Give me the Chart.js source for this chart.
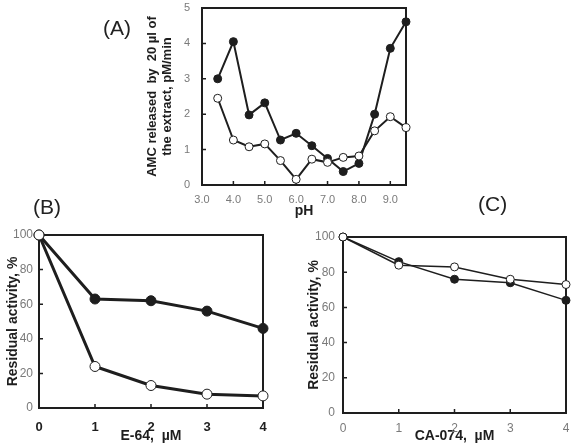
<!DOCTYPE html>
<html>
<head>
<meta charset="utf-8">
<script src="https://cdn.jsdelivr.net/npm/chart.js@4.4.0/dist/chart.umd.min.js"></script>
<style>
  html, body { margin:0; padding:0; background:#fff; }
  #wrap { position:relative; width:571px; height:446px; overflow:hidden; background:#fff; }
  canvas { position:absolute; left:0; top:0; }
  .plab { position:absolute; font-family:"Liberation Sans", Arial, sans-serif; font-size:21px; color:#222; line-height:1; }
</style>
</head>
<body>
<div id="wrap">
  <canvas id="cA" width="571" height="446"></canvas>
  <canvas id="cB" width="571" height="446"></canvas>
  <canvas id="cC" width="571" height="446"></canvas>
  <div class="plab" style="left:103px;top:17px;">(A)</div>
  <div class="plab" style="left:33px;top:196px;">(B)</div>
  <div class="plab" style="left:478px;top:193px;">(C)</div>
</div>
<script>
// ---------- Data ----------
const phValues   = [3.5, 4.0, 4.5, 5.0, 5.5, 6.0, 6.5, 7.0, 7.5, 8.0, 8.5, 9.0, 9.5];
const phFilled   = [3.00, 4.05, 1.98, 2.32, 1.27, 1.46, 1.11, 0.75, 0.38, 0.61, 2.00, 3.86, 4.61];
const phOpen     = [2.45, 1.27, 1.08, 1.16, 0.69, 0.16, 0.73, 0.64, 0.78, 0.82, 1.53, 1.93, 1.62];
const phTicks    = [3, 4, 5, 6, 7, 8, 9];
const amcTicks   = [0, 1, 2, 3, 4, 5];

const e64Conc    = [0, 1, 2, 3, 4];
const e64Filled  = [100, 63, 62, 56, 46];
const e64Open    = [100, 24, 13, 8, 7];

const ca074Conc   = [0, 1, 2, 3, 4];
const ca074Filled = [100, 86, 76, 74, 64];
const ca074Open   = [100, 84, 83, 76, 73];

const concTicks  = [0, 1, 2, 3, 4];
const pctTicks   = [0, 20, 40, 60, 80, 100];

// ---------- Helpers ----------
const INK = '#1e1e1e';
const GRAY = '#7a7a7a';
const SANS = '"Liberation Sans", Arial, sans-serif';
const NARROW = '"Liberation Sans Narrow", "Liberation Sans", Arial, sans-serif';

function pts(xs, ys) { return xs.map((x, i) => ({ x: x, y: ys[i] })); }

// plot frame + inward tick marks, positioned through the chart's own scales
const framePlugin = {
  id: 'frame',
  beforeDatasetsDraw(chart, args, opts) {
    const { ctx, chartArea: a, scales } = chart;
    ctx.save();
    ctx.setLineDash([]);
    ctx.strokeStyle = INK;
    ctx.lineWidth = opts.lineWidth || 2;
    ctx.strokeRect(a.left, a.top, a.right - a.left, a.bottom - a.top);
    ctx.lineWidth = opts.tickWidth || 1.5;
    const tl = opts.tickLen || 4;
    ctx.beginPath();
    scales.x.ticks.forEach(t => {
      const px = scales.x.getPixelForValue(t.value);
      if (px <= a.left + 1 || px >= a.right - 1) return;
      ctx.moveTo(px, a.bottom); ctx.lineTo(px, a.bottom - tl);
    });
    scales.y.ticks.forEach(t => {
      const py = scales.y.getPixelForValue(t.value);
      if (py <= a.top + 1 || py >= a.bottom - 1) return;
      ctx.moveTo(a.left, py); ctx.lineTo(a.left + tl, py);
    });
    ctx.stroke();
    ctx.restore();
  }
};

function ds(data, filled, lw, r) {
  return {
    data: data,
    showLine: true,
    borderColor: INK,
    borderWidth: lw,
    backgroundColor: filled ? INK : '#ffffff',
    pointBackgroundColor: filled ? INK : '#ffffff',
    pointBorderColor: INK,
    pointBorderWidth: 1,
    pointRadius: r,
    pointHoverRadius: r,
    tension: 0,
    clip: false,
    fill: false
  };
}

function makeChart(id, cfg) {
  return new Chart(document.getElementById(id), {
    type: 'line',
    data: { datasets: cfg.datasets },
    plugins: [framePlugin],
    options: {
      responsive: false,
      animation: false,
      events: [],
      layout: { padding: cfg.padding },
      plugins: { legend: { display: false }, tooltip: { enabled: false }, frame: cfg.frame || {} },
      scales: {
        x: {
          type: 'linear',
          min: cfg.xMin, max: cfg.xMax,
          afterBuildTicks: s => { s.ticks = cfg.xTicks.map(v => ({ value: v })); },
          afterFit: s => { s.height = cfg.xH; s.paddingLeft = 0; s.paddingRight = 0; },
          grid: { display: false, drawTicks: false },
          border: { display: false },
          ticks: {
            padding: cfg.xTickPad,
            color: cfg.xTickColor,
            font: cfg.xTickFont,
            maxRotation: 0,
            autoSkip: false,
            callback: cfg.xFmt || (v => String(v))
          },
          title: {
            display: true,
            text: cfg.xTitle,
            color: INK,
            font: cfg.xTitleFont,
            padding: { top: 0, bottom: cfg.xTitlePadB }
          }
        },
        y: {
          type: 'linear',
          min: cfg.yMin, max: cfg.yMax,
          afterBuildTicks: s => { s.ticks = cfg.yTicks.map(v => ({ value: v })); },
          afterFit: s => { s.width = cfg.yW; s.paddingTop = 0; s.paddingBottom = 0; },
          grid: { display: false, drawTicks: false },
          border: { display: false },
          ticks: {
            padding: cfg.yTickPad,
            color: GRAY,
            font: cfg.yTickFont,
            autoSkip: false
          },
          title: {
            display: true,
            text: cfg.yTitle,
            color: INK,
            font: cfg.yTitleFont,
            padding: { top: cfg.yTitlePadT, bottom: 0 }
          }
        }
      }
    }
  });
}

// ---------- (A) pH profile ----------
makeChart('cA', {
  datasets: [ds(pts(phValues, phOpen), false, 2, 4), ds(pts(phValues, phFilled), true, 2, 4)],
  padding: { left: 120, top: 8, right: 165, bottom: 221 },
  xMin: 3, xMax: 9.5, xTicks: phTicks, xH: 40, xTickPad: 8,
  xTickColor: GRAY, xTickFont: { family: NARROW, size: 11 },
  xFmt: v => Number(v).toFixed(1),
  xTitle: 'pH', xTitleFont: { family: SANS, size: 14, weight: 'bold' }, xTitlePadB: 5,
  yMin: 0, yMax: 5, yTicks: amcTicks, yW: 82, yTickPad: 12,
  yTickFont: { family: NARROW, size: 11 },
  yTitle: ['AMC released  by  20 µl of', 'the extract, pM/min'],
  yTitleFont: { family: SANS, size: 13, weight: 'bold', lineHeight: 1.15 }, yTitlePadT: 25,
  frame: { lineWidth: 2, tickLen: 4 }
});

// ---------- (B) E-64 ----------
makeChart('cB', {
  datasets: [ds(pts(e64Conc, e64Open), false, 3, 5), ds(pts(e64Conc, e64Filled), true, 3, 5)],
  padding: { left: 0, top: 235, right: 308, bottom: 0 },
  xMin: 0, xMax: 4, xTicks: concTicks, xH: 38, xTickPad: 12,
  xTickColor: INK, xTickFont: { family: SANS, size: 13, weight: 'bold' },
  xTitle: 'E-64,  µM', xTitleFont: { family: SANS, size: 14, weight: 'bold' }, xTitlePadB: 1,
  yMin: 0, yMax: 100, yTicks: pctTicks, yW: 39, yTickPad: 6,
  yTickFont: { family: SANS, size: 12 },
  yTitle: 'Residual activity, %',
  yTitleFont: { family: SANS, size: 14, weight: 'bold' }, yTitlePadT: 5,
  frame: { lineWidth: 2, tickLen: 4 }
});

// ---------- (C) CA-074 ----------
makeChart('cC', {
  datasets: [ds(pts(ca074Conc, ca074Open), false, 1.5, 4), ds(pts(ca074Conc, ca074Filled), true, 1.5, 4)],
  padding: { left: 300, top: 237, right: 3, bottom: 0 },
  xMin: 0, xMax: 4, xTicks: concTicks, xH: 33, xTickPad: 8,
  xTickColor: GRAY, xTickFont: { family: SANS, size: 12 },
  xTitle: 'CA-074,  µM', xTitleFont: { family: SANS, size: 14, weight: 'bold' }, xTitlePadB: 1,
  yMin: 0, yMax: 100, yTicks: pctTicks, yW: 43, yTickPad: 8,
  yTickFont: { family: SANS, size: 12 },
  yTitle: 'Residual activity, %',
  yTitleFont: { family: SANS, size: 14, weight: 'bold' }, yTitlePadT: 6,
  frame: { lineWidth: 2, tickLen: 4 }
});
</script>
</body>
</html>
